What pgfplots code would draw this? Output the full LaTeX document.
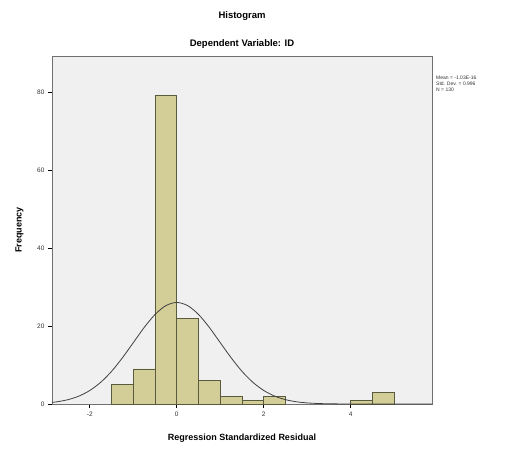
\documentclass[border=0pt]{standalone}
\usepackage{fontspec}
\setmainfont{Liberation Sans}
\usepackage{pgfplots}
\pgfplotsset{compat=1.18}
\definecolor{barfill}{HTML}{D3CE97}
\definecolor{barline}{HTML}{5A5A3C}
\definecolor{plotbg}{HTML}{F0F0F0}
\definecolor{frame}{HTML}{707070}

\begin{document}
\begin{tikzpicture}
  \begin{axis}[
      name=ax,
      scale only axis,
      width=380pt, height=348pt,
      xmin=-2.87, xmax=5.87,
      ymin=0, ymax=89.2,
      axis background/.style={fill=plotbg},
      axis line style={frame, line width=0.9pt},
      xtick={-2,0,2,4}, ytick={0,20,40,60,80},
      tick align=outside,
      major tick length=4pt,
      tick style={black, line width=0.7pt},
      xtick pos=bottom, ytick pos=left,
      tick label style={font=\fontsize{6.5}{7}\selectfont, text=black!80},
      /pgf/number format/assume math mode=true,
      xlabel={\textbf{Regression Standardized Residual}},
      ylabel={\textbf{Frequency}},
      xlabel style={font=\fontsize{9}{10}\selectfont, at={(0.5,0)}, anchor=north, yshift=-26pt},
      ylabel style={font=\fontsize{9}{10}\selectfont, yshift=7pt},
      clip=true,
    ]
    % histogram bins (width 0.5)
    \addplot[ybar interval, fill=barfill, draw=barline, line width=0.6pt] coordinates {
      (-1.5,5) (-1.0,9) (-0.5,79) (0.0,22) (0.5,6) (1.0,2) (1.5,1) (2.0,2) (2.5,2)
    };
    \addplot[ybar interval, fill=barfill, draw=barline, line width=0.6pt] coordinates {
      (4.0,1) (4.5,3) (5.0,3)
    };
    % fitted normal curve
    \addplot[smooth, black!75, line width=0.8pt] coordinates {
      (-2.87,0.41) (-2.75,0.576) (-2.5,1.115) (-2.25,2.03) (-2.0,3.47)
      (-1.75,5.56) (-1.5,8.37) (-1.25,11.85) (-1.0,15.72) (-0.75,19.61)
      (-0.5,22.95) (-0.25,25.22) (0,26.03) (0.25,25.22) (0.5,22.95)
      (0.75,19.61) (1.0,15.72) (1.25,11.85) (1.5,8.37) (1.75,5.56)
      (2.0,3.47) (2.25,2.03) (2.5,1.115) (2.75,0.576) (3.0,0.279)
      (3.25,0.127) (3.5,0.054) (3.75,0.02) (4.0,0.008) (5.87,0)
    };
  \end{axis}
  \node[font=\fontsize{9.5}{10}\selectfont\bfseries, anchor=base] at ([yshift=37pt]ax.north) {Histogram};
  \node[font=\fontsize{9.5}{10}\selectfont\bfseries, anchor=base] at ([yshift=9pt]ax.north) {Dependent Variable: ID};
  \node[font=\fontsize{5}{6}\selectfont, anchor=north west, align=left, inner sep=0pt, text=black!80]
    at ([xshift=4pt, yshift=-20pt]ax.north east) {Mean = -1.03E-16\\Std. Dev. = 0.996\\N = 130};
  \pgfresetboundingbox
  \path[use as bounding box] ([shift={(-52pt,-44pt)}]ax.south west) rectangle ([shift={(91pt,56pt)}]ax.north east);
\end{tikzpicture}
\end{document}
